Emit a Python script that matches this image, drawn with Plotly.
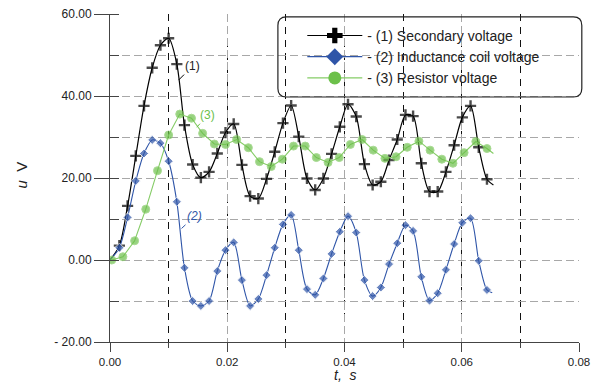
import plotly.graph_objects as go

# ---- data ----
# time grid shared by series (1) and (2) (marked points)
t_marked = [0.0016, 0.0030, 0.0044, 0.0058, 0.0072, 0.0086, 0.0100, 0.0114, 0.0127, 0.0141,
            0.0155, 0.0169, 0.0183, 0.0197, 0.0211, 0.0225, 0.0239, 0.0253, 0.0267, 0.0281,
            0.0295, 0.0309, 0.0322, 0.0336, 0.0350, 0.0364, 0.0378, 0.0392, 0.0406, 0.0420,
            0.0434, 0.0448, 0.0462, 0.0476, 0.0490, 0.0504, 0.0517, 0.0531, 0.0545, 0.0559,
            0.0573, 0.0587, 0.0601, 0.0615, 0.0629, 0.0643]
secondary = [3.5, 13.2, 25.4, 37.6, 46.9, 52.4, 54.1, 47.8, 32.9, 23.3,
             20.1, 21.5, 26.0, 31.1, 33.2, 23.2, 15.6, 15.0, 19.8, 26.4,
             33.4, 37.7, 30.1, 19.9, 17.1, 19.9, 25.9, 32.5, 38.0, 35.0,
             23.4, 18.3, 19.1, 24.4, 29.4, 35.4, 35.1, 23.6, 16.7, 16.7,
             21.5, 28.0, 34.8, 37.6, 27.5, 19.7]
inductance = [3.0, 10.4, 19.3, 26.0, 29.3, 28.5, 24.1, 14.2, -1.9, -10.0,
              -11.2, -10.0, -2.7, 2.4, 4.3, -4.9, -11.2, -9.5, -3.7, 3.0,
              8.7, 11.0, 2.4, -7.1, -8.5, -4.5, 1.5, 6.9, 10.7, 6.7,
              -4.9, -8.8, -6.7, -1.0, 4.1, 8.5, 7.1, -4.1, -9.9, -8.1,
              -2.4, 3.9, 9.1, 10.2, -0.2, -7.3]
# unmarked curve start / end points
t_start = 0.0
sec_start, ind_start = 0.0, 0.0
t_end_sec, sec_end = 0.0654, 18.3
t_end_ind, ind_end = 0.0652, -8.0

# time grid of series (3)
t_res = [0.0003, 0.0022, 0.0042, 0.0061, 0.0081, 0.0100, 0.0119, 0.0139, 0.0158, 0.0178,
         0.0197, 0.0216, 0.0236, 0.0255, 0.0275, 0.0294, 0.0313, 0.0333, 0.0352, 0.0372,
         0.0391, 0.0410, 0.0430, 0.0449, 0.0469, 0.0488, 0.0507, 0.0527, 0.0546, 0.0566,
         0.0585, 0.0604, 0.0624, 0.0643]
resistor = [0.0, 0.8, 4.7, 12.4, 21.8, 30.5, 35.6, 34.6, 30.9, 28.3,
            28.2, 29.4, 27.4, 24.0, 22.8, 24.6, 27.8, 27.8, 25.0, 23.8,
            25.0, 28.2, 29.4, 26.8, 24.8, 25.2, 27.5, 29.0, 26.8, 24.6,
            23.6, 26.2, 28.9, 27.2]
t_end_res, res_end = 0.0654, 26.0

names = ["- (1) Secondary voltage", "- (2) Inductance coil voltage", "- (3) Resistor voltage"]
y_ticks = [-20, 0, 20, 40, 60]
y_ticktext = ["- 20.00", "0.00", "20.00", "40.00", "60.00"]
x_ticks = [0.0, 0.02, 0.04, 0.06, 0.08]
x_ticktext = ["0.00", "0.02", "0.04", "0.06", "0.08"]

BLACK = "#000000"
BLUE = "#2f55a8"
GREEN = "#6cc04a"
GREEN_LINE = "#85cc66"

fig = go.Figure()

def sizes(n, s):
    return [0] + [s] * n + [0]

# (1) secondary voltage
fig.add_trace(go.Scatter(
    x=[t_start] + t_marked + [t_end_sec], y=[sec_start] + secondary + [sec_end],
    mode="lines+markers", line=dict(color=BLACK, width=1.2, shape="spline", smoothing=0.8),
    marker=dict(symbol="cross-thin", size=sizes(len(t_marked), 8), color=BLACK,
                line=dict(color=BLACK, width=2.4)),
    showlegend=False))
# (2) inductance coil voltage
fig.add_trace(go.Scatter(
    x=[t_start] + t_marked + [t_end_ind], y=[ind_start] + inductance + [ind_end],
    mode="lines+markers", line=dict(color=BLUE, width=1.1, shape="spline", smoothing=0.8),
    marker=dict(symbol="diamond", size=sizes(len(t_marked), 7), color=BLUE),
    showlegend=False))
# (3) resistor voltage
fig.add_trace(go.Scatter(
    x=t_res + [t_end_res], y=resistor + [res_end],
    mode="lines+markers", line=dict(color=GREEN_LINE, width=1.1),
    marker=dict(symbol="circle", size=[8] * len(t_res) + [0], color=GREEN),
    showlegend=False))

# legend-only entries (bigger symbols, like the reference legend)
fig.add_trace(go.Scatter(x=[None], y=[None], mode="lines+markers", name=names[0],
                         line=dict(color=BLACK, width=1.2),
                         marker=dict(symbol="cross", size=13, color=BLACK)))
fig.add_trace(go.Scatter(x=[None], y=[None], mode="lines+markers", name=names[1],
                         line=dict(color=BLUE, width=1.2),
                         marker=dict(symbol="diamond", size=13, color=BLUE)))
fig.add_trace(go.Scatter(x=[None], y=[None], mode="lines+markers", name=names[2],
                         line=dict(color=GREEN_LINE, width=1.2),
                         marker=dict(symbol="circle", size=13, color=GREEN)))

GRID = "#a8a8a8"
AX = "#444444"
fig.update_xaxes(
    range=[0, 0.08], tickmode="array", tickvals=x_ticks, ticktext=x_ticktext,
    showline=True, linecolor=AX, linewidth=1, ticks="outside", ticklen=9, tickcolor=AX,
    showgrid=True, gridcolor=GRID, gridwidth=1, griddash="8px,4px", zeroline=False,
    minor=dict(dtick=0.01, tick0=0, ticks="outside", ticklen=5, tickcolor=AX,
               showgrid=True, gridcolor="#111111", gridwidth=1, griddash="7px,6px"),
    tickfont=dict(size=11.5, color="#222"), automargin=False, ticklabeloverflow="allow")
fig.update_yaxes(
    range=[-20, 60.02], tickmode="array", tickvals=y_ticks, ticktext=y_ticktext,
    showline=True, linecolor=AX, linewidth=1, ticks="outside", ticklen=15, tickcolor=AX,
    showgrid=True, gridcolor=GRID, gridwidth=1, griddash="8px,4px", zeroline=False,
    minor=dict(dtick=10, tick0=0, ticks="inside", ticklen=9, tickcolor=AX,
               showgrid=True, gridcolor=GRID, gridwidth=1, griddash="8px,4px"),
    tickfont=dict(size=12, color="#222"), automargin=False, ticklabeloverflow="allow")

# axis titles
fig.add_annotation(text="<i>t,  s</i>", xref="paper", yref="paper", x=0.503, y=-0.102,
                   xanchor="center", yanchor="middle", showarrow=False, borderpad=0,
                   font=dict(size=14, color="#222"))
fig.add_annotation(text="<i>u</i>  V", xref="paper", yref="paper", x=-0.188, y=0.51,
                   xanchor="center", yanchor="middle", showarrow=False, textangle=-90,
                   font=dict(size=15, color="#222"))

# rounded legend frame (paper coordinates)
x0, x1, y0, y1 = 0.358, 1.006, 0.747, 0.991
rx, ry = 0.018, 0.026
path = (f"M{x0+rx},{y1} L{x1-rx},{y1} Q{x1},{y1} {x1},{y1-ry} "
        f"L{x1},{y0+ry} Q{x1},{y0} {x1-rx},{y0} L{x0+rx},{y0} "
        f"Q{x0},{y0} {x0},{y0+ry} L{x0},{y1-ry} Q{x0},{y1} {x0+rx},{y1} Z")
fig.add_shape(type="path", path=path, xref="paper", yref="paper",
              line=dict(color="#222", width=1.2), fillcolor="rgba(0,0,0,0)")

# curve labels with leader lines
fig.add_annotation(x=0.0117, y=43.9, text="(1)", showarrow=True, arrowhead=0, arrowwidth=1,
                   arrowcolor=BLACK, ax=14, ay=-14, font=dict(size=12, color="#222"))
fig.add_annotation(x=0.0122, y=7.7, text="<i>(2)</i>", showarrow=True, arrowhead=0, arrowwidth=1,
                   arrowcolor=BLUE, ax=13, ay=-12, font=dict(size=12, color=BLUE))
fig.add_annotation(x=0.0148, y=32.4, text="(3)", showarrow=True, arrowhead=0, arrowwidth=1,
                   arrowcolor=GREEN, ax=11, ay=-12, font=dict(size=12, color=GREEN))

fig.update_layout(
    width=600, height=383,
    margin=dict(l=102, r=29, t=6, b=49),
    plot_bgcolor="white", paper_bgcolor="white",
    font=dict(family="Liberation Sans, Arial, sans-serif", size=12, color="#222"),
    legend=dict(x=0.41, y=0.982, xanchor="left", yanchor="top",
                bgcolor="rgba(0,0,0,0)", borderwidth=0, itemwidth=55,
                font=dict(size=14, color="#222"), tracegroupgap=0),
)

fig.write_html("out.html")
